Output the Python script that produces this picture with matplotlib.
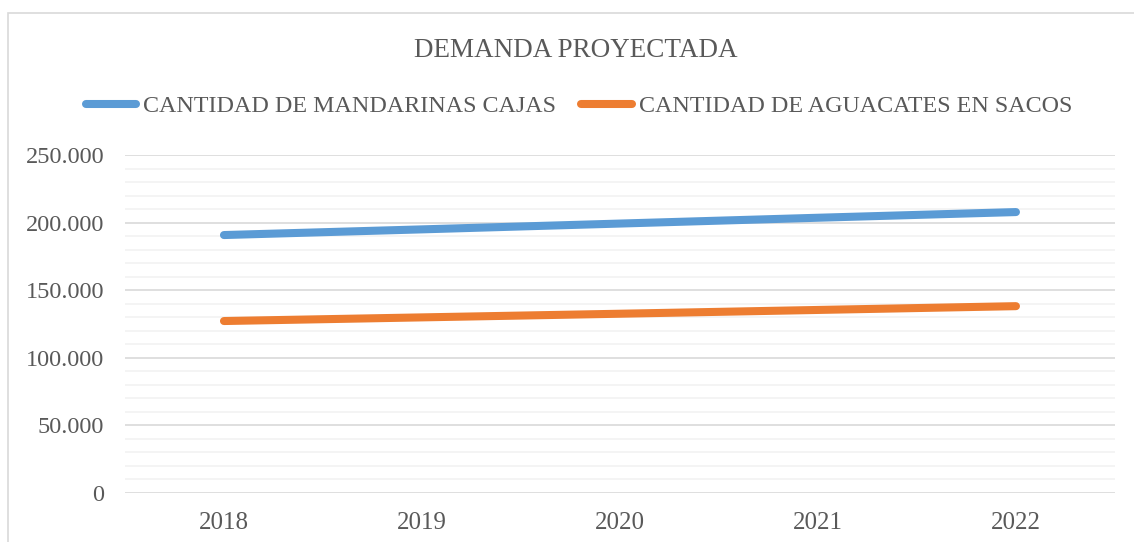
import matplotlib
matplotlib.use('Agg')
import matplotlib.pyplot as plt
from matplotlib.ticker import FuncFormatter, MultipleLocator
from matplotlib.patches import Rectangle

years = ["2018", "2019", "2020", "2021", "2022"]
mandarinas = [190800, 195000, 199300, 203600, 207800]
aguacates = [127200, 129900, 132600, 135400, 138200]
series_names = ["CANTIDAD DE MANDARINAS CAJAS", "CANTIDAD DE AGUACATES EN SACOS"]

plt.rcParams['font.family'] = ['Liberation Serif', 'DejaVu Serif']
txt = '#595959'

fig = plt.figure(figsize=(11.34, 5.42), dpi=100)
ax = fig.add_axes([0.1102, 0.0904, 0.873, 0.6236])

# chart border (cropped on right and bottom)
fig.patches.append(Rectangle((8 / 1134, -0.1), 1.2, 1 - 13 / 542 + 0.1,
                             transform=fig.transFigure, fill=False,
                             edgecolor='#D9D9D9', linewidth=1.2))

x = range(len(years))
ax.plot(x, mandarinas, color='#5B9BD5', linewidth=5.8, solid_capstyle='round',
        label=series_names[0], zorder=3)
ax.plot(x, aguacates, color='#ED7D31', linewidth=5.8, solid_capstyle='round',
        label=series_names[1], zorder=3)

ax.set_xlim(-0.5, len(years) - 0.5)
ax.set_ylim(0, 250000)
ax.set_xticks(list(x))
ax.set_xticklabels(years)
ax.yaxis.set_major_locator(MultipleLocator(50000))
ax.yaxis.set_minor_locator(MultipleLocator(10000))
ax.yaxis.set_major_formatter(FuncFormatter(lambda v, p: f"{int(v):,}".replace(",", ".")))

ax.grid(which='major', axis='y', color='#D9D9D9', linewidth=1.2, zorder=1)
ax.grid(which='minor', axis='y', color='#F2F2F2', linewidth=1.2, zorder=0)
for s in ax.spines.values():
    s.set_visible(False)
ax.tick_params(which='both', length=0)
ax.tick_params(axis='y', labelsize=17.5, labelcolor=txt, pad=15)
ax.tick_params(axis='x', labelsize=18, labelcolor=txt, pad=14)

fig.text(0.508, 0.906, "DEMANDA PROYECTADA", ha='center', va='center',
         fontsize=19.5, color=txt)

leg = fig.legend(loc='center', bbox_to_anchor=(0.5106, 0.804), ncol=2, frameon=False,
                 fontsize=17.3, handlelength=2.1, handletextpad=0.3,
                 columnspacing=1.05, labelcolor=txt)

fig.savefig("out.png", dpi=100)
